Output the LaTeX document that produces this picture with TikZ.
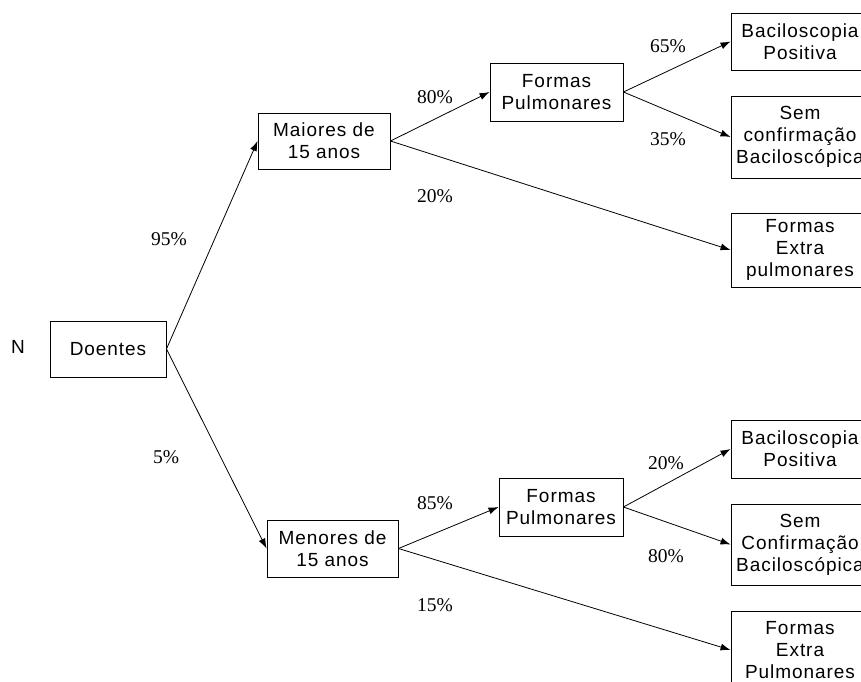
\documentclass[tikz,border=0pt]{standalone}
\usepackage{fontspec}
\usetikzlibrary{arrows.meta}
\newfontfamily\boxfont{Liberation Sans}[LetterSpace=5]
\newfontfamily\pctfont{Liberation Serif}
\begin{document}
\begin{tikzpicture}[x=1pt,y=-1pt,
  box/.style={draw=black,line width=0.9pt,fill=white,align=center,inner sep=0pt,
    font=\boxfont\fontsize{19}{22}\selectfont},
  pct/.style={inner sep=0pt,font=\pctfont\fontsize{19.5}{22}\selectfont},
  link/.style={line width=0.8pt,-{Latex[length=10pt,width=7pt]}},
  plain/.style={line width=0.8pt}]
\useasboundingbox (0,0) rectangle (861,681);
\clip (0,0) rectangle (861,681);
\fill[white] (0,0) rectangle (861,681);

% root
\node[inner sep=0pt,font=\boxfont\fontsize{19}{22}\selectfont] (n) at (18,347) {N};
\node[box,minimum width=116pt,minimum height=56pt] (d) at (108,349) {Doentes};

% upper branch
\node[box,minimum width=132pt,minimum height=56pt] (mai) at (324,141) {Maiores de\\15 anos};
\node[box,minimum width=133pt,minimum height=58pt] (fp1) at (556.5,92) {Formas\\Pulmonares};
\node[box,minimum width=138pt,minimum height=57pt] (bp1) at (800,41.5) {Baciloscopia\\Positiva};
\node[box,minimum width=138pt,minimum height=82pt] (sc1) at (800,137) {Sem\\confirmação\\Baciloscópica};
\node[box,minimum width=138pt,minimum height=74pt] (fe1) at (800,250) {Formas\\Extra\\pulmonares};

% lower branch
\node[box,minimum width=131pt,minimum height=57pt] (men) at (332.5,548.5) {Menores de\\15 anos};
\node[box,minimum width=124pt,minimum height=58pt] (fp2) at (561,507) {Formas\\Pulmonares};
\node[box,minimum width=138pt,minimum height=58pt] (bp2) at (800,449) {Baciloscopia\\Positiva};
\node[box,minimum width=138pt,minimum height=81pt] (sc2) at (800,544.5) {Sem\\Confirmação\\Baciloscópica};
\node[box,minimum width=138pt,minimum height=78pt] (fe2) at (800,650) {Formas\\Extra\\Pulmonares};

% connectors
\draw[link] (d.east) -- (mai.west);
\draw[link] (d.east) -- (men.west);
\draw[link] (mai.east) -- (fp1.west);
\draw[link] (mai.east) -- (fe1.west);
\draw[link] (fp1.east) -- (bp1.west);
\draw[link] (fp1.east) -- (sc1.west);
\draw[link] (men.east) -- (fp2.west);
\draw[link] (men.east) -- (fe2.west);
\draw[link] (fp2.east) -- (bp2.west);
\draw[link] (fp2.east) -- (sc2.west);

% proportions
\node[pct] (p95) at (169,239) {95\%};
\node[pct] (p5)  at (166,457) {5\%};
\node[pct] (p80a) at (435,97) {80\%};
\node[pct] (p20a) at (435,196) {20\%};
\node[pct] (p65) at (668,46) {65\%};
\node[pct] (p35) at (668,139) {35\%};
\node[pct] (p85) at (435,503) {85\%};
\node[pct] (p15) at (435,605) {15\%};
\node[pct] (p20b) at (666,463) {20\%};
\node[pct] (p80b) at (666,556) {80\%};
\end{tikzpicture}
\end{document}
